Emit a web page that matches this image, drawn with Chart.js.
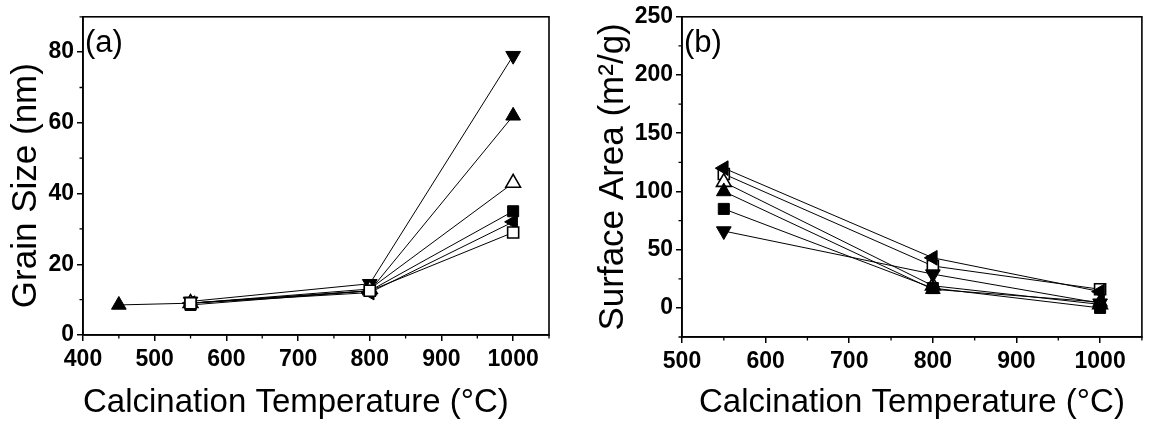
<!DOCTYPE html>
<html><head><meta charset="utf-8">
<script src="https://cdn.jsdelivr.net/npm/chart.js@4.4.1/dist/chart.umd.min.js"></script>
<style>
html,body{margin:0;padding:0;background:#fff;width:1152px;height:427px;overflow:hidden}
.w{position:absolute;top:0;width:576px;height:427px}
</style></head><body>
<div class="w" style="left:0"><canvas id="ca"></canvas></div>
<div class="w" style="left:576px"><canvas id="cb"></canvas></div>
<script>
// ---------- Panel (a): Grain size ----------
const tempsA4 = [450, 550, 800, 1000];
const tempsA3 = [550, 800, 1000];
const grainTriDown   = [9.5, 14.5, 79];
const grainTriUp     = [8.5, 9.0, 12.5, 62];
const grainTriOpen   = [9.0, 13.0, 43];
const grainSqFilled  = [8.5, 12.5, 35];
const grainTriLeft   = [9.0, 12.0, 32];
const grainSqOpen    = [9.0, 12.5, 29];
const xTicksA = [400, 500, 600, 700, 800, 900, 1000];
const xMinorA = [450, 550, 650, 750, 850, 950, 1050];
const yTicksA = [0, 20, 40, 60, 80];
const yMinorA = [10, 30, 50, 70, 90];

// ---------- Panel (b): Surface area ----------
const tempsB = [550, 800, 1000];
const areaTriLeft  = [120, 43, 14];
const areaSqOpen   = [115, 36, 16];
const areaTriOpen  = [108, 19, 3];
const areaTriUp    = [100, 16, 5];
const areaSqFilled = [85, 17, 0];
const areaTriDown  = [66, 29, 4];
const xTicksB = [500, 600, 700, 800, 900, 1000];
const xMinorB = [550, 650, 750, 850, 950, 1050];
const yTicksB = [0, 50, 100, 150, 200, 250];
const yMinorB = [-25, 25, 75, 125, 175, 225];

const FONT = "'Liberation Sans', Arial, sans-serif";
const pts = (xs, ys) => xs.map((x, i) => ({x, y: ys[i]}));

function series(xs, ys, style, filled) {
  const shapes = {
    up:   {pointStyle: 'triangle', rotation: 0,   r: 8.5},
    down: {pointStyle: 'triangle', rotation: 180, r: 8.5},
    left: {pointStyle: 'triangle', rotation: 270, r: 8.5},
    sq:   {pointStyle: 'rect',     rotation: 0,   r: 7.8}
  }[style];
  return {
    data: pts(xs, ys),
    showLine: true,
    borderColor: '#000',
    borderWidth: 1,
    pointStyle: shapes.pointStyle,
    rotation: shapes.rotation,
    pointRadius: shapes.r,
    pointHoverRadius: shapes.r,
    pointBackgroundColor: filled ? '#000' : '#fff',
    pointBorderColor: '#000',
    pointBorderWidth: filled ? 1 : 1.6,
    tension: 0
  };
}

const framePlugin = {
  id: 'frame',
  afterDraw(chart, args, opts) {
    const {ctx, chartArea: a, scales} = chart;
    ctx.save();
    ctx.strokeStyle = '#000';
    ctx.lineWidth = 1.6;
    ctx.strokeRect(a.left, a.top, a.right - a.left, a.bottom - a.top);
    // minor ticks (outward, short)
    ctx.lineWidth = 1.3;
    ctx.beginPath();
    opts.xMinor.forEach(v => {
      const px = scales.x.getPixelForValue(v);
      ctx.moveTo(px, a.bottom); ctx.lineTo(px, a.bottom + 3.5);
    });
    opts.yMinor.forEach(v => {
      const py = scales.y.getPixelForValue(v);
      ctx.moveTo(a.left, py); ctx.lineTo(a.left - 3.5, py);
    });
    ctx.stroke();
    // panel label
    ctx.fillStyle = '#000';
    ctx.font = '31px ' + FONT;
    ctx.textBaseline = 'middle';
    ctx.textAlign = 'left';
    ctx.fillText(opts.label, a.left + opts.lx, a.top + opts.ly);
    ctx.restore();
  }
};

function makeChart(id, datasets, cfg) {
  return new Chart(document.getElementById(id), {
    type: 'scatter',
    data: {datasets},
    plugins: [framePlugin],
    options: {
      responsive: false,
      animation: false,
      devicePixelRatio: 1,
      layout: {padding: {top: cfg.padTop, right: cfg.padRight, left: 0, bottom: 0}},
      plugins: {
        legend: {display: false},
        tooltip: {enabled: false},
        frame: {xMinor: cfg.xMinor, yMinor: cfg.yMinor, label: cfg.label, lx: cfg.lx, ly: cfg.ly}
      },
      scales: {
        x: {
          type: 'linear',
          min: cfg.xmin, max: cfg.xmax,
          afterBuildTicks: s => { s.ticks = cfg.xTicks.map(v => ({value: v})); },
          afterFit: s => { s.height = cfg.xHeight; },
          grid: {drawOnChartArea: false, drawTicks: true, tickLength: 6, color: '#000', lineWidth: 1.5},
          border: {display: true, color: '#000', width: 1.6},
          ticks: {color: '#000', font: {family: FONT, size: 23, weight: 'bold'}, padding: 5,
                  maxRotation: 0, autoSkip: false, callback: v => String(v)},
          title: {display: true, text: 'Calcination Temperature (°C)', color: '#000', align: cfg.xTitleAlign,
                  font: {family: FONT, size: 33}, padding: {top: 0, bottom: 4}}
        },
        y: {
          type: 'linear',
          min: cfg.ymin, max: cfg.ymax,
          afterBuildTicks: s => { s.ticks = cfg.yTicks.map(v => ({value: v})); },
          afterFit: s => { s.width = cfg.yWidth; },
          grid: {drawOnChartArea: false, drawTicks: true, tickLength: 6, color: '#000', lineWidth: 1.5},
          border: {display: true, color: '#000', width: 1.6},
          ticks: {color: '#000', font: {family: FONT, size: 23, weight: 'bold'}, padding: 3,
                  autoSkip: false, callback: v => String(v)},
          title: {display: true, text: cfg.yTitle, color: '#000',
                  font: {family: FONT, size: 35}, padding: {top: cfg.yTitlePad, bottom: 0}}
        }
      }
    }
  });
}

document.getElementById('ca').width = 576; document.getElementById('ca').height = 427;
document.getElementById('cb').width = 576; document.getElementById('cb').height = 427;

makeChart('ca', [
  series(tempsA3, grainSqOpen, 'sq', false),
  series(tempsA3, grainTriLeft, 'left', true),
  series(tempsA3, grainSqFilled, 'sq', true),
  series(tempsA3, grainTriOpen, 'up', false),
  series(tempsA4, grainTriUp, 'up', true),
  series(tempsA3, grainTriDown, 'down', true)
], {
  xmin: 400, xmax: 1050, ymin: 0, ymax: 90,
  xTicks: xTicksA, xMinor: xMinorA, yTicks: yTicksA, yMinor: yMinorA,
  padTop: 11, padRight: 27, xHeight: 92, yWidth: 83, yTitlePad: 5, xTitleAlign: 'start',
  yTitle: 'Grain Size (nm)  ', label: '(a)', lx: 2, ly: 27
});

makeChart('cb', [
  series(tempsB, areaTriDown, 'down', true),
  series(tempsB, areaSqFilled, 'sq', true),
  series(tempsB, areaTriUp, 'up', true),
  series(tempsB, areaTriOpen, 'up', false),
  series(tempsB, areaTriLeft, 'left', true),
  series(tempsB, areaSqOpen, 'sq', false)
], {
  xmin: 500, xmax: 1050, ymin: -25, ymax: 250,
  xTicks: xTicksB, xMinor: xMinorB, yTicks: yTicksB, yMinor: yMinorB,
  padTop: 12, padRight: 2, xHeight: 90, yWidth: 106, yTitlePad: 16, xTitleAlign: 'center',
  yTitle: 'Surface Area (m²/g)', label: '(b)', lx: 2, ly: 27
});
</script>
</body></html>
